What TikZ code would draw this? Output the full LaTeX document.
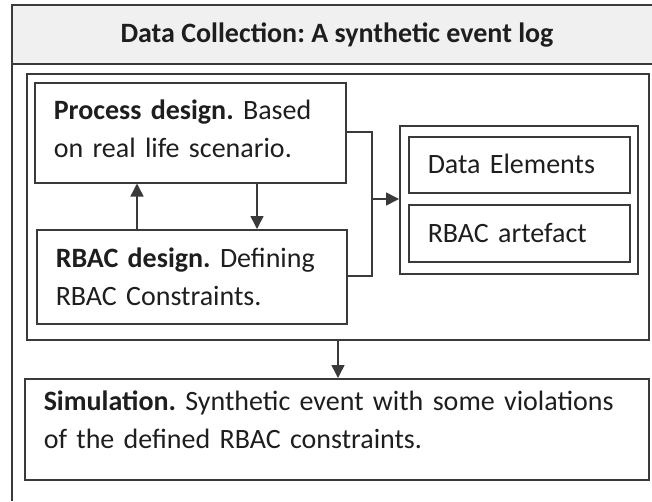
\documentclass[tikz,border=0pt]{standalone}
\usepackage{fontspec}
\setmainfont{Carlito}
\frenchspacing
\usetikzlibrary{arrows.meta}
\definecolor{edge}{HTML}{3A3A3A}
\definecolor{band}{HTML}{F0F0F0}
\definecolor{ink}{HTML}{1E1E1E}
\tikzset{
  box/.style={draw=edge, line width=1.5pt, rectangle, inner sep=0pt},
  txtbox/.style={box, anchor=north west, align=left, inner xsep=19pt, inner ysep=0pt,
    text=ink, font=\fontsize{28}{38}\selectfont},
  arr/.style={draw=edge, line width=1.5pt, -{Triangle[width=13pt,length=13pt]}},
  wire/.style={draw=edge, line width=1.5pt}
}
\begin{document}
\begin{tikzpicture}[x=1pt,y=-1pt]
\useasboundingbox (0,0) rectangle (652,501);
% outer frame (runs past the right and bottom edges)
\fill[band] (12,5) rectangle (652,64);
\draw[wire] (652,5) -- (12,5) -- (12,501);
\draw[wire] (12,64) -- (652,64);
\node[anchor=base, text=ink, font=\fontsize{28}{34}\selectfont\bfseries] (title) at (337,42)
  {Data Collection: A synthetic event log};
% inner container
\node[box, anchor=north west, minimum width=622pt, minimum height=266pt] (inner) at (26,73) {};
% process design
\node[txtbox, text width=273pt, text height=37pt, text depth=63pt] (proc) at (34,82)
  {\mbox{\textbf{Process design.} Based}\\\mbox{on real life scenario.}};
% rbac design
\node[txtbox, text width=272pt, text height=38pt, text depth=56pt] (rbac) at (36,229)
  {\mbox{\textbf{RBAC design.} Defining}\\\mbox{RBAC Constraints.}};
% right container
\node[box, anchor=north west, minimum width=238pt, minimum height=148pt] (right) at (399,125) {};
\node[txtbox, text width=183pt, text height=37pt, text depth=19pt] (data) at (408,136) {\mbox{Data Elements}};
\node[txtbox, text width=183pt, text height=38pt, text depth=19pt] (art) at (408,204) {\mbox{RBAC artefact}};
% simulation
\node[txtbox, text width=586pt, text height=32pt, text depth=69pt] (sim) at (24,378)
  {\mbox{\textbf{Simulation.} Synthetic event with some violations}\\\mbox{of the defined RBAC constraints.}};
% connectors
\coordinate (j) at (372,199);
\draw[arr] (rbac.north -| 137,0) -- (proc.south -| 137,0);
\draw[arr] (proc.south -| 257,0) -- (rbac.north -| 257,0);
\draw[wire] (proc.east |- 0,132) -- (j |- 0,132) -- (j) -- (j |- 0,276) -- (rbac.east |- 0,276);
\draw[arr] (j) -- (right.west |- j);
\draw[arr] (inner.south -| 338,0) -- (sim.north -| 338,0);
\end{tikzpicture}
\end{document}
